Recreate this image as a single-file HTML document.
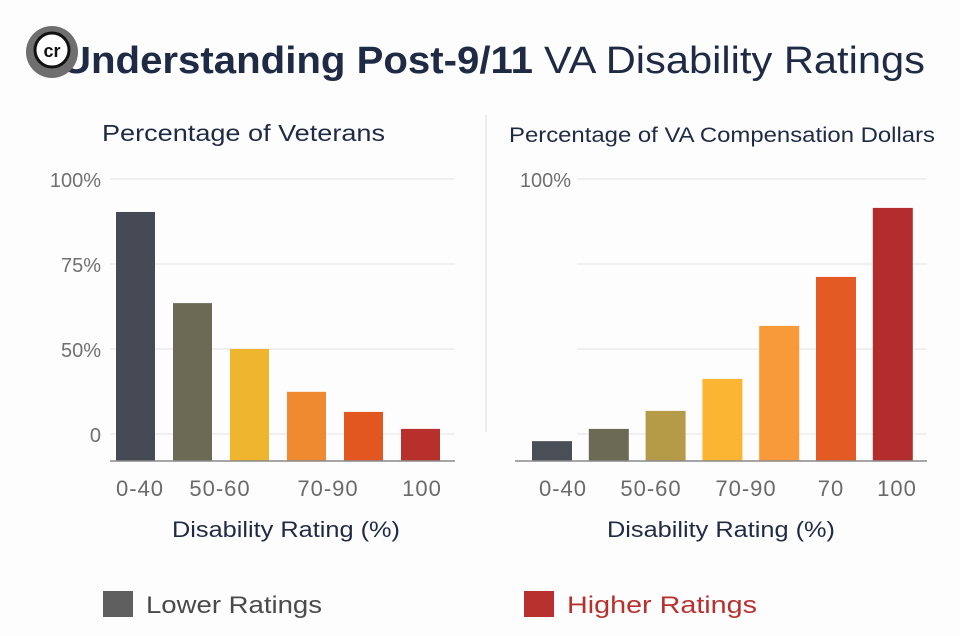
<!DOCTYPE html>
<html><head><meta charset="utf-8"><style>
html,body{margin:0;padding:0;background:#fdfdfd;}
svg{display:block;font-family:"Liberation Sans",sans-serif;}
</style></head><body>
<svg id="c" width="960" height="636" viewBox="0 0 960 636">
<rect width="960" height="636" fill="#fdfdfd"/>
<text x="62" y="73" font-size="38" fill="#1f2a44"><tspan font-weight="bold" textLength="471" lengthAdjust="spacingAndGlyphs">Understanding Post-9/11</tspan><tspan x="544" textLength="381" lengthAdjust="spacingAndGlyphs">VA Disability Ratings</tspan></text>
<g>
<circle cx="52" cy="52" r="26" fill="#6f6f6f"/>
<circle cx="52" cy="50" r="17" fill="#fff" stroke="#111" stroke-width="3"/>
<text x="52" y="57" font-size="18" font-weight="bold" text-anchor="middle" fill="#111">cr</text>
</g>
<text x="102" y="141" font-size="23" fill="#1f2a44" textLength="283" lengthAdjust="spacingAndGlyphs">Percentage of Veterans</text>
<text x="509" y="142" font-size="21" fill="#1f2a44" textLength="426" lengthAdjust="spacingAndGlyphs">Percentage of VA Compensation Dollars</text>
<line x1="486" y1="115" x2="486" y2="432" stroke="#e6e6e6" stroke-width="1.5"/>
<g id="left"></g><g id="right"></g>
<text x="172" y="537" font-size="22" fill="#1f2a44" textLength="228" lengthAdjust="spacingAndGlyphs">Disability Rating (%)</text>
<text x="607" y="537" font-size="22" fill="#1f2a44" textLength="228" lengthAdjust="spacingAndGlyphs">Disability Rating (%)</text>
<g>
<rect x="103" y="591" width="30" height="26" fill="#5f5f5f"/>
<text x="146" y="613" font-size="24" fill="#4a4a4a" textLength="176" lengthAdjust="spacingAndGlyphs">Lower Ratings</text></g>
<g>
<rect x="524" y="591" width="30" height="26" fill="#b8312f"/>
<text x="567" y="613" font-size="24" fill="#b8312f" textLength="190" lengthAdjust="spacingAndGlyphs">Higher Ratings</text></g>
</svg>
<script>
const tickValues=[100,75,50,25];
const tickLabels=['100%','75%','50%','0'];
const leftValues=[90.3,63.5,50,37.4,31.5,26.5];
const leftColors=['#454a55','#6b6a55','#f0b52f','#f08a30','#e2561f','#b8302c'];
const leftLabels=['0-40','50-60','70-90','100'];
const leftLabelPos=[140,220,328,422];
const rightValues=[22.9,26.5,31.8,41.2,56.8,71.2,91.5];
const rightColors=['#4a4e57','#6b6a55','#b59b48','#fbb532','#f8993a','#e45a24','#b32d2e'];
const rightLabels=['0-40','50-60','70-90','70','100'];
const rightLabelPos=[563,651,746,831,897];
const NS='http://www.w3.org/2000/svg';
const baseY=461;
function y(v){return 519-3.4*v;}
function mk(t,a,p){const e=document.createElementNS(NS,t);for(const k in a)e.setAttribute(k,a[k]);p.appendChild(e);return e;}
function draw(g,vals,cols,labels,lpos,x0,x1,step,bw,bx0,tickX,gx0,side){
  tickValues.forEach((v,i)=>{
    const ln=mk('line',{x1:gx0,x2:x1,y1:y(v),y2:y(v),stroke:'#e8e8e8','stroke-width':1.2},g);
    
    
    if(side==='left'||i===0){
      const t=mk('text',{x:tickX,y:y(v)+8,'font-size':20,fill:'#707070','text-anchor':'end'},g);
      t.textContent=tickLabels[i];
      
      
    }
  });
  vals.forEach((v,i)=>{
    const r=mk('rect',{x:bx0+i*step,y:y(v),width:bw,height:baseY-y(v),fill:cols[i]},g);
    
    
  });
  const b=mk('line',{x1:x0,x2:x1,y1:baseY,y2:baseY,stroke:'#8a8a8a','stroke-width':1.5},g);
  
  
  labels.forEach((l,i)=>{
    const t=mk('text',{x:lpos[i],y:496,'font-size':22,fill:'#6a6a6a','text-anchor':'middle','letter-spacing':'1'},g);
    t.textContent=l;
    
    
  });
}
draw(document.getElementById('left'),leftValues,leftColors,leftLabels,leftLabelPos,110,455,57,39,116,101,110,'left');
draw(document.getElementById('right'),rightValues,rightColors,rightLabels,rightLabelPos,515,927,56.8,40,532,571,577,'right');
</script>
</body></html>
